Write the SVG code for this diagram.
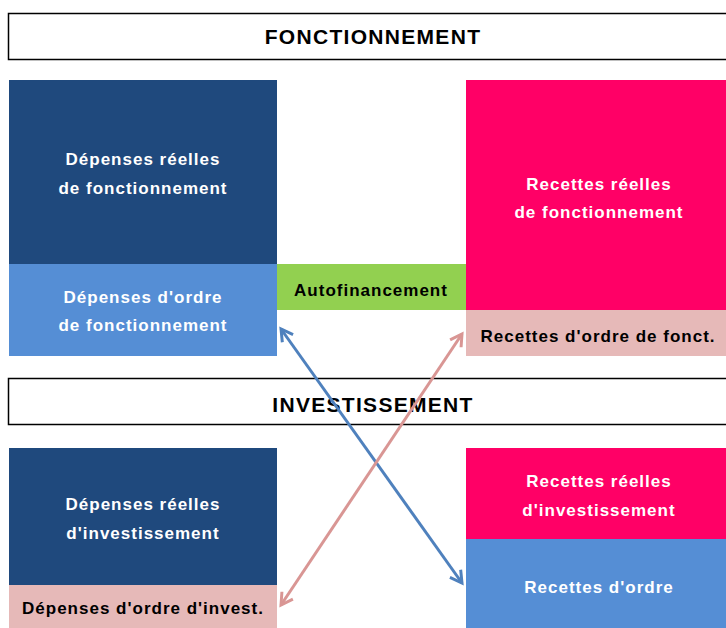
<svg xmlns="http://www.w3.org/2000/svg" width="726" height="628" viewBox="0 0 726 628">
<style>
.t{font-family:"Liberation Sans",Arial,sans-serif;font-weight:bold;font-size:17px;letter-spacing:1px;text-anchor:middle}
.w{fill:#ffffff}
.k{fill:#000000}
.h{font-family:"Liberation Sans",Arial,sans-serif;font-weight:bold;font-size:21px;letter-spacing:1.3px;text-anchor:middle;fill:#000}
.ban{fill:#ffffff;stroke:#000;stroke-width:1.5}
.ab{stroke:#4F81BD;stroke-width:3;fill:none}
.ap{stroke:#D99694;stroke-width:3;fill:none}
</style>
<defs>
<marker id="mb" viewBox="0 0 10 10" refX="8" refY="5" markerWidth="5.5" markerHeight="5.5" orient="auto-start-reverse" markerUnits="strokeWidth"><path d="M1,1 L8,5 L1,9" fill="none" stroke="#4F81BD" stroke-width="1.8"/></marker>
<marker id="mp" viewBox="0 0 10 10" refX="8" refY="5" markerWidth="5.5" markerHeight="5.5" orient="auto-start-reverse" markerUnits="strokeWidth"><path d="M1,1 L8,5 L1,9" fill="none" stroke="#D99694" stroke-width="1.8"/></marker>
</defs>
<rect width="726" height="628" fill="#fff"/>
<g id="banner-fonctionnement"><rect class="ban" x="8.5" y="13.5" width="730" height="46"/><text class="h" x="373" y="44">FONCTIONNEMENT</text></g>
<g id="dep-reelles-fonct"><rect x="9" y="80" width="268" height="184" fill="#1F497D"/><text class="t w" x="143" y="165">Dépenses réelles</text><text class="t w" x="143" y="194">de fonctionnement</text></g>
<g id="dep-ordre-fonct"><rect x="9" y="264" width="268" height="92" fill="#558ED5"/><text class="t w" x="143" y="303">Dépenses d'ordre</text><text class="t w" x="143" y="331">de fonctionnement</text></g>
<g id="autofinancement"><rect x="277" y="264" width="189" height="46" fill="#92D050"/><text class="t k" x="371" y="296">Autofinancement</text></g>
<g id="rec-reelles-fonct"><rect x="466" y="80" width="260" height="230" fill="#FF0066"/><text class="t w" x="599" y="190">Recettes réelles</text><text class="t w" x="599" y="218">de fonctionnement</text></g>
<g id="rec-ordre-fonct"><rect x="466" y="310" width="260" height="46" fill="#E6B9B8"/><text class="t k" x="598" y="342">Recettes d'ordre de fonct.</text></g>
<g id="banner-investissement"><rect class="ban" x="8.5" y="378.5" width="730" height="46"/><text class="h" x="373" y="412">INVESTISSEMENT</text></g>
<g id="dep-reelles-invest"><rect x="9" y="448" width="268" height="137" fill="#1F497D"/><text class="t w" x="143" y="510">Dépenses réelles</text><text class="t w" x="143" y="539">d'investissement</text></g>
<g id="dep-ordre-invest"><rect x="9" y="585" width="268" height="43" fill="#E6B9B8"/><text class="t k" x="143" y="614">Dépenses d'ordre d'invest.</text></g>
<g id="rec-reelles-invest"><rect x="466" y="448" width="260" height="91" fill="#FF0066"/><text class="t w" x="599" y="487">Recettes réelles</text><text class="t w" x="599" y="516">d'investissement</text></g>
<g id="rec-ordre"><rect x="466" y="539" width="260" height="89" fill="#558ED5"/><text class="t w" x="599" y="593">Recettes d'ordre</text></g>
<g id="connectors">
<line class="ab" x1="281" y1="329" x2="462" y2="583" marker-start="url(#mb)" marker-end="url(#mb)"/>
<line class="ap" x1="462" y1="334" x2="281" y2="605" marker-start="url(#mp)" marker-end="url(#mp)"/>
</g>
</svg>
